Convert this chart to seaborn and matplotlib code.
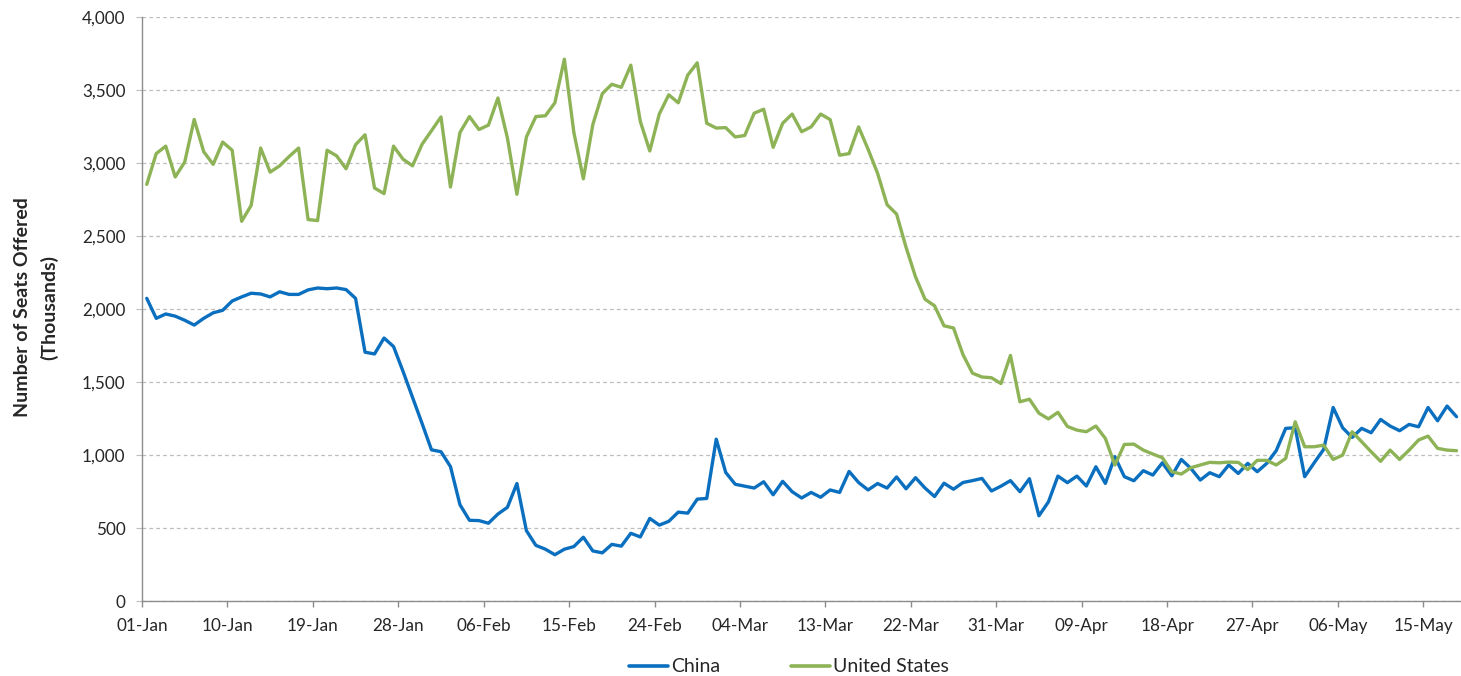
import numpy as np
import pandas as pd
import matplotlib
matplotlib.use("Agg")
import matplotlib.pyplot as plt
import matplotlib.dates as mdates
from matplotlib.lines import Line2D
import seaborn as sns

start_date = "2020-01-01"

china = [
    2074, 1937, 1967, 1952, 1924, 1891, 1937, 1975, 1992, 2056,
    2084, 2109, 2104, 2084, 2119, 2101, 2101, 2132, 2145, 2140,
    2145, 2134, 2074, 1705, 1693, 1802, 1744, 1574, 1396, 1218,
    1036, 1023, 921, 660, 553, 551, 533, 596, 642, 805,
    482, 381, 355, 317, 355, 373, 437, 343, 330, 388,
    376, 464, 439, 566, 520, 546, 609, 602, 698, 703,
    1109, 881, 800, 787, 774, 817, 728, 820, 749, 706,
    744, 711, 761, 744, 888, 812, 761, 805, 774, 850,
    769, 845, 774, 716, 807, 766, 812, 825, 840, 754,
    787, 825, 749, 838, 584, 679, 856, 811, 856, 788,
    920, 806, 989, 852, 824, 893, 863, 947, 858, 970,
    909, 829, 879, 852, 932, 874, 943, 886, 943, 1030,
    1183, 1187, 852, 947, 1039, 1326, 1187, 1121, 1183, 1153,
    1244, 1199, 1167, 1210, 1194, 1326, 1235, 1336, 1263,
]

united_states = [
    2855, 3066, 3117, 2906, 3008, 3300, 3079, 2992, 3145, 3089,
    2602, 2711, 3104, 2939, 2982, 3046, 3104, 2614, 2607, 3089,
    3051, 2962, 3127, 3195, 2830, 2792, 3117, 3028, 2982, 3129,
    3223, 3317, 2837, 3211, 3320, 3231, 3261, 3447, 3173, 2787,
    3180, 3320, 3325, 3414, 3713, 3211, 2893, 3265, 3477, 3541,
    3520, 3672, 3287, 3084, 3337, 3469, 3414, 3604, 3688, 3274,
    3241, 3244, 3180, 3190, 3343, 3370, 3109, 3274, 3337, 3216,
    3249, 3337, 3299, 3055, 3066, 3249, 3096, 2931, 2716, 2652,
    2424, 2221, 2068, 2023, 1886, 1871, 1688, 1561, 1535, 1530,
    1490, 1683, 1365, 1383, 1287, 1248, 1293, 1196, 1171, 1160,
    1199, 1114, 932, 1073, 1075, 1034, 1007, 982, 886, 870,
    913, 932, 950, 947, 952, 950, 900, 964, 964, 932,
    977, 1228, 1057, 1057, 1068, 970, 1000, 1160, 1091, 1023,
    957, 1034, 970, 1034, 1103, 1130, 1046, 1034, 1030,
]

series_names = ["China", "United States"]
series_colors = ["#0B6FBF", "#8DB356"]
y_ticks = [0, 500, 1000, 1500, 2000, 2500, 3000, 3500, 4000]
y_label = "Number of Seats Offered\n(Thousands)"

n = len(china)
dates = pd.date_range(start_date, periods=n, freq="D") + pd.Timedelta(hours=12)
df = pd.DataFrame({
    "Date": np.concatenate([dates, dates]),
    "Seats": china + united_states,
    "Country": [series_names[0]] * n + [series_names[1]] * n,
})

sns.set_theme(style="white")
plt.rcParams["font.family"] = ["Lato", "DejaVu Sans"]

W, H = 1461, 676
fig = plt.figure(figsize=(W / 100, H / 100), dpi=100)
ax = fig.add_axes([142 / W, 1 - 601 / H, (1460.5 - 142) / W, (601 - 17.3) / H])

sns.lineplot(data=df, x="Date", y="Seats", hue="Country",
             palette=dict(zip(series_names, series_colors)),
             linewidth=2.4, ax=ax, legend=False)

ax.set_ylim(0, 4000)
ax.set_yticks(y_ticks)
ax.set_yticklabels([f"{v:,}" for v in y_ticks])
x0 = pd.Timestamp(start_date)
ax.set_xlim(x0, x0 + pd.Timedelta(days=n) - pd.Timedelta(hours=2))
xt = pd.date_range(start_date, periods=16, freq="9D")
ax.set_xticks(xt)
ax.xaxis.set_major_formatter(mdates.DateFormatter("%d-%b"))

ax.set_xlabel("")
ax.set_ylabel("")
ax.grid(axis="y", color="#BDBDBD", linestyle=(0, (3, 2.5)), linewidth=0.9)
ax.grid(axis="x", visible=False)
for s in ["top", "right"]:
    ax.spines[s].set_visible(False)
for s in ["left", "bottom"]:
    ax.spines[s].set_color("#8C8C8C")
    ax.spines[s].set_linewidth(1.0)

ax.tick_params(axis="x", which="major", length=4, width=1, color="#8C8C8C",
               direction="out", pad=8, labelsize=12.3, labelcolor="#262626", bottom=True)
ax.tick_params(axis="y", which="major", length=4, width=0.8, color="#BDBDBD",
               direction="out", pad=8, labelsize=12.3, labelcolor="#262626", left=True)

fig.text(36 / W, 1 - 307 / H, y_label, rotation=90, ha="center", va="center",
         fontsize=14, fontweight="bold", color="#262626", linespacing=1.6)

handles = [Line2D([0], [0], color=c, lw=2.6) for c in series_colors]
fig.legend(handles, series_names, loc="center", bbox_to_anchor=(789 / W, 1 - 667 / H),
           ncol=2, frameon=False, fontsize=14, handlelength=2.0, handletextpad=0.2,
           columnspacing=3.6, labelcolor="#262626")

fig.savefig("out.png", dpi=100)
